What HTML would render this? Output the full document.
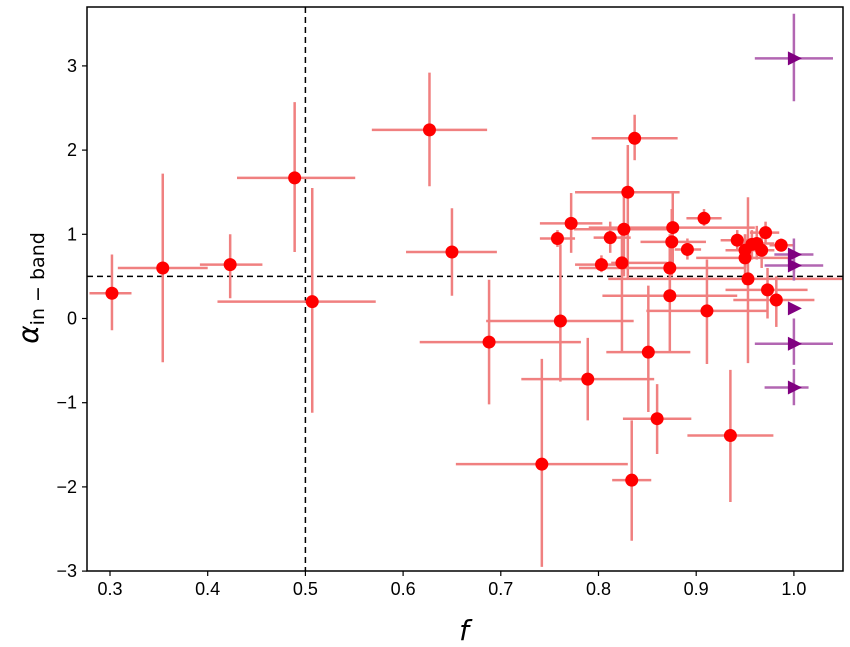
<!DOCTYPE html>
<html><head><meta charset="utf-8"><style>
body{margin:0;background:#fff;}
svg{display:block;font-family:"Liberation Sans","DejaVu Sans",sans-serif;}
</style></head><body>
<svg id="chart" width="850" height="647"></svg>
<script>
// red detections
const fVals=[0.302,0.354,0.423,0.489,0.507,0.627,0.650,0.688,0.761,0.742,0.789,0.834,0.851,0.860,0.935,0.911,0.873,0.953,0.973,0.982,0.837,0.830,0.772,0.812,0.826,0.876,0.875,0.891,0.908,0.803,0.824,0.873,0.942,0.950,0.957,0.962,0.967,0.971,0.987,0.950,0.758];
const aVals=[0.30,0.60,0.64,1.67,0.20,2.24,0.79,-0.28,-0.03,-1.73,-0.72,-1.92,-0.40,-1.19,-1.39,0.09,0.27,0.47,0.34,0.22,2.14,1.50,1.13,0.96,1.06,1.08,0.91,0.82,1.19,0.64,0.66,0.60,0.93,0.81,0.88,0.89,0.81,1.02,0.87,0.72,0.95];
const fLo=[0.279,0.308,0.392,0.430,0.410,0.568,0.603,0.617,0.685,0.654,0.721,0.814,0.808,0.825,0.891,0.849,0.804,0.810,0.930,0.938,0.793,0.776,0.740,0.795,0.775,0.790,0.843,0.878,0.890,0.776,0.813,0.780,0.925,0.930,0.945,0.945,0.955,0.955,0.975,0.900,0.740];
const fHi=[0.322,0.400,0.456,0.551,0.572,0.686,0.696,0.782,0.836,0.830,0.857,0.854,0.894,0.895,0.979,0.972,0.942,1.050,1.014,1.021,0.881,0.883,0.804,0.833,0.880,0.960,0.910,0.905,0.926,0.830,0.870,0.950,0.960,0.970,0.970,0.980,0.980,0.985,1.000,1.000,0.776];
const aLo=[-0.14,-0.52,0.24,0.79,-1.12,1.57,0.27,-1.02,-0.75,-2.95,-1.21,-2.64,-1.11,-1.61,-2.18,-0.54,-0.40,-0.53,0.00,-0.10,1.88,0.46,0.78,0.78,0.50,0.60,0.50,0.70,1.10,0.55,-0.40,0.20,0.80,0.60,0.70,0.70,0.60,0.90,0.80,0.40,0.85];
const aHi=[0.76,1.72,1.00,2.57,1.55,2.92,1.31,0.46,0.88,-0.48,-0.23,-1.21,0.39,-0.78,-0.61,0.70,0.90,1.44,0.60,0.50,2.42,2.06,1.49,1.15,1.50,1.50,1.30,0.95,1.30,0.75,1.10,1.00,1.05,1.00,1.05,1.10,1.00,1.15,0.95,1.00,1.05];
// purple limits
const pF=[1.0,1.0,1.0,1.0,1.0,1.0];
const pA=[3.09,0.76,0.63,0.12,-0.30,-0.82];
const pFLo=[0.96,0.98,0.97,1.0,0.96,0.97];
const pFHi=[1.04,1.02,1.03,1.0,1.04,1.015];
const pALo=[2.58,0.55,0.45,0.12,-0.55,-1.03];
const pAHi=[3.62,0.95,0.80,0.12,0.00,-0.60];
const xTicks=[0.3,0.4,0.5,0.6,0.7,0.8,0.9,1.0];
const yTicks=[-3,-2,-1,0,1,2,3];

const L=87,R=843,T=7,B=571;
const X=v=>110+(v-0.3)*977;
const Y=v=>318.5-v*84.2;
const svg=document.getElementById('chart');
const NS='http://www.w3.org/2000/svg';
function mk(tag,attrs,parent){const e=document.createElementNS(NS,tag);for(const k in attrs)e.setAttribute(k,attrs[k]);(parent||svg).appendChild(e);return e;}

// reference lines
let e=mk('line',{x1:X(0.5),x2:X(0.5),y1:T,y2:B,stroke:'#000','stroke-width':1.5,'stroke-dasharray':'6,4'});


e=mk('line',{x1:L,x2:R,y1:Y(0.5),y2:Y(0.5),stroke:'#000','stroke-width':1.5,'stroke-dasharray':'6,4'});



// error bars red
for(let i=0;i<fVals.length;i++){
  const g=mk('g',{stroke:'#f08080','stroke-width':2.5,opacity:1});
  
  
  mk('line',{x1:X(fLo[i]),x2:X(fHi[i]),y1:Y(aVals[i]),y2:Y(aVals[i])},g);
  mk('line',{x1:X(fVals[i]),x2:X(fVals[i]),y1:Y(aLo[i]),y2:Y(aHi[i])},g);
}
for(let i=0;i<pF.length;i++){
  const g=mk('g',{stroke:'#b266b2','stroke-width':2.5});
  
  
  mk('line',{x1:X(pFLo[i]),x2:X(pFHi[i]),y1:Y(pA[i]),y2:Y(pA[i])},g);
  mk('line',{x1:X(pF[i]),x2:X(pF[i]),y1:Y(pALo[i]),y2:Y(pAHi[i])},g);
}
for(let i=0;i<fVals.length;i++){
  e=mk('circle',{cx:X(fVals[i]),cy:Y(aVals[i]),r:6.5,fill:'#ff0000'});
  
  
}
for(let i=0;i<pF.length;i++){
  const x=X(pF[i]),y=Y(pA[i]);
  e=mk('polygon',{points:`${x-6},${y-7} ${x+8},${y} ${x-6},${y+7}`,fill:'#800080'});
  
  
}
// frame
e=mk('rect',{x:L,y:T,width:R-L,height:B-T,fill:'none',stroke:'#000','stroke-width':1.5});


for(const t of xTicks){
  mk('line',{x1:X(t),x2:X(t),y1:B,y2:B+5,stroke:'#000','stroke-width':1.2});
  e=mk('text',{x:X(t),y:B+24,'text-anchor':'middle','font-size':18});
  e.textContent=t.toFixed(1);
  
  
}
for(const t of yTicks){
  mk('line',{x1:L-5,x2:L,y1:Y(t),y2:Y(t),stroke:'#000','stroke-width':1.2});
  e=mk('text',{x:L-10,y:Y(t)+6,'text-anchor':'end','font-size':18});
  e.textContent=t<0?'\u2212'+Math.abs(t):String(t);
  
  
}
e=mk('text',{x:464,y:640,'text-anchor':'middle','font-size':28,'font-style':'italic','font-family':'"DejaVu Sans",sans-serif'});
e.textContent='f';


e=mk('text',{x:0,y:0,'font-size':28,'font-style':'italic','font-family':'"DejaVu Sans",sans-serif',transform:'translate(38,288) rotate(-90)','text-anchor':'middle'});
e.innerHTML='α<tspan font-size="19" font-style="normal" dy="6">in − band</tspan>';


</script>
</body></html>
